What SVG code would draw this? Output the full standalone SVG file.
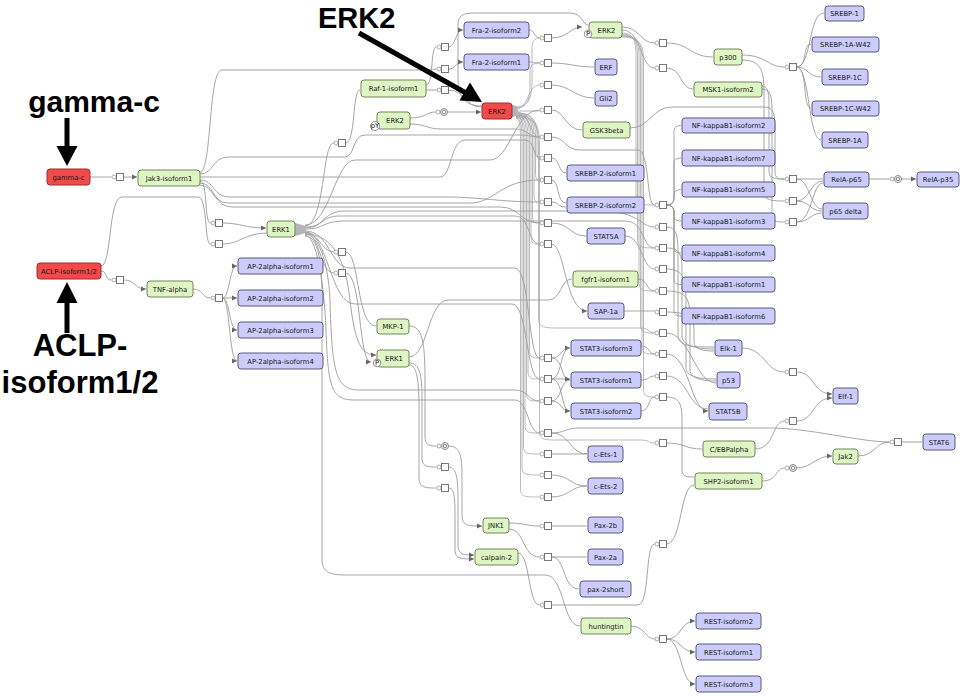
<svg xmlns="http://www.w3.org/2000/svg" width="964" height="696" viewBox="0 0 964 696">
<style>
#connectors path{fill:none;stroke:#9b9b9b;stroke-width:.9}
#connectors .t{stroke-width:.75;stroke:#a4a4a4}
#connectors .a{marker-end:url(#ar)}
.nb{fill:#ccccfc;stroke:#5a5a78;stroke-width:1}
.ng{fill:#def6c4;stroke:#74845c;stroke-width:1}
.nr{fill:#f04a4a;stroke:#9a2e2e;stroke-width:1}
.n text{font-family:"DejaVu Sans",sans-serif;font-size:6.8px;fill:#151515;text-anchor:middle}
.pq{fill:#fff;stroke:#6a6a6a;stroke-width:.9}
.pp{fill:#fff;stroke:#8a8a8a;stroke-width:.7}
.pc{fill:#fff;stroke:#777;stroke-width:.9}
.ann{font-family:"Liberation Sans",Arial,sans-serif;font-weight:bold;fill:#000}
.wedge{fill:#b4b4b4}
.mod{fill:#fff;stroke:#777;stroke-width:.8}
.modt{font-family:"DejaVu Sans",sans-serif;font-size:4px;fill:#333;text-anchor:middle}
</style>
<defs>
<marker id="ar" markerWidth="6" markerHeight="6" refX="5" refY="3" orient="auto" markerUnits="userSpaceOnUse"><path d="M0,0.6 L5,3 L0,5.4 z" fill="#666"/></marker>
<g id="sq"><circle class="pp" cx="-6" cy="0" r="2"/><rect class="pq" x="-3.5" y="-3.5" width="7" height="7"/></g>
<g id="cc"><circle class="pp" cx="-6" cy="0" r="2"/><circle class="pc" cx="0" cy="0" r="3.5"/><circle class="pc" cx="0" cy="0" r="1.8"/></g>
</defs>
<rect width="964" height="696" fill="#fff"/>

<g id="connectors">
<path d="M90 177 H111.5"/>
<path class="a" d="M123.5 177 H137"/>
<path d="M101 271 C108 271 104 280 111.5 280"/>
<path class="a" d="M123.5 280 C136 280 134 289 146 289"/>
<path d="M193 289 C203 289 202 298 210.5 298"/>
<path class="a" d="M222.5 298 C230 298 229 266 237 266"/>
<path class="a" d="M222.5 298 H237"/>
<path class="a" d="M222.5 298 C230 298 229 330 237 330"/>
<path class="a" d="M222.5 298 C230 298 229 361 237 361"/>
<path d="M200 181 C208 181 204 223 210.5 223"/>
<path class="a" d="M222.5 223 C240 223 245 228 266 228"/>
<path d="M101 266 C112 266 108 197 122 197 H198 C208 197 204 244 210.5 244"/>
<path d="M222.5 244 C240 244 245 233 267 233"/>
<path d="M200 172 C212 172 208 70 222 70 H428 C434 70 432 69 436.5 69"/>
<path d="M200 174 C214 174 212 157 228 157 H345 C355 157 352 135 365 135 H520 C530 135 530 137 539.5 137"/>
<path d="M200 177 H440 C452 177 450 140 465 140 H525 C535 140 533 158 539.5 158"/>
<path d="M200 180 C215 180 212 197 230 197 H445 C480 197 500 202 539.5 202"/>
<path d="M200 183 C214 183 212 203 228 203 H470 C495 203 500 180 539.5 180"/>
<path d="M200 185 C214 185 214 207 232 207 H500 C520 207 520 223 539.5 223"/>
<path d="M305 225 C330 225 335 160 355 160 H490 C510 160 515 110 539.5 110"/>
<path d="M305 226 C325 226 322 143 333.5 143"/>
<path d="M345.5 143 C356 143 352 90 360 90"/>
<path d="M305 227 C325 227 320 216 340 216 H515 C530 216 528 244 539.5 244"/>
<path d="M305 228 C325 228 322 211 345 211 H600 C640 211 640 227 654.5 227"/>
<path d="M305 229 C325 229 322 221 345 221 H625 C645 221 642 248 654.5 248"/>
<path d="M305 231 C330 231 330 268 350 268 H515 C530 268 528 358 539.5 358"/>
<path d="M305 232 C328 232 330 304 355 304 H512 C528 304 526 379 539.5 379"/>
<path d="M305 234 C318 234 328 260 330 300 C332 375 336 390 360 390 H515 C528 390 528 401 539.5 401"/>
<path d="M305 235 C316 235 324 280 326 330 C328 390 332 400 355 400 H515 C528 400 528 433 539.5 433"/>
<path d="M305 232 C318 232 322 252 333.5 252"/>
<path d="M305 233 C320 233 320 273 333.5 273"/>
<path d="M305 236 C318 236 322 260 322 300 V560 C322 572 330 575 345 575 H545 C565 575 562 626 580 626"/>
<path class="a" d="M305 234 C330 234 345 255 350 300 C355 345 362 355 376 355"/>
<path d="M345.5 252 C360 252 356 326 376 326"/>
<path class="a" d="M345.5 273 C362 273 358 362 371 362"/>
<path d="M409 326 C422 326 425 340 425 380 V436 C425 446 430 446 436.5 446"/>
<path d="M409 363 C420 363 422 375 422 400 V458 C422 467 428 467 436.5 467"/>
<path d="M409 365 C417 365 419 380 419 410 V478 C419 488 426 488 436.5 488"/>
<path d="M409 357 C428 357 428 300 448 300 H548 C562 300 560 279 572 279"/>
<path class="a" d="M448.5 446 C462 446 462 460 462 480 V515 C462 526 468 526 482 526"/>
<path class="a" d="M448.5 467 C457 467 458 480 458 500 V545 C458 555 464 555 474 555"/>
<path class="a" d="M448.5 488 C455 488 455 500 455 520 V550 C455 559 462 559 474 559"/>
<path d="M509 523 C525 523 525 526 539.5 526"/>
<path d="M551.5 526 H587"/>
<path d="M509 529 C525 529 522 557 539.5 557"/>
<path d="M551.5 557 H587"/>
<path d="M551.5 557 C566 557 562 589 579 589"/>
<path d="M518 553 C530 553 528 605 539.5 605"/>
<path d="M551.5 605 H638 C650 605 645 544 654.5 544"/>
<path d="M666.5 544 C682 544 680 485 694 485"/>
<path d="M631 626 C645 626 645 639 654.5 639"/>
<path class="a" d="M666.5 639 C682 639 680 621 695 621"/>
<path class="a" d="M666.5 639 C682 639 680 652 695 652"/>
<path class="a" d="M666.5 639 C682 639 680 684 695 684"/>
<path d="M482 106 C466 106 458 98 458 80 V25 C458 16 462 13 475 13 H570 C582 13 582 24 588 25"/>
<path d="M529 30 C535 30 534 38 539.5 38"/>
<path d="M529 62 C535 62 534 63 539.5 63"/>
<path d="M426 85 C434 85 430 47 436.5 47"/>
<path d="M426 90 H436.5"/>
<path class="a" d="M448.5 47 C456 47 455 30 463 30"/>
<path class="a" d="M448.5 69 C456 69 455 62 463 62"/>
<path d="M448.5 90 C465 90 465 107 481 107"/>
<path d="M410 118 C426 118 426 112 435.5 112"/>
<path class="a" d="M447.5 112 H481"/>
<path d="M410 124 C426 124 426 129 442 129 H515 C528 129 528 137 539.5 137"/>
<path class="t" d="M516 107 C530 107 532 95 532 80 V50 C532 40 535 38 539.5 38"/>
<path class="t" d="M516 108 C528 108 530 98 530 85 V72 C530 64 534 63 539.5 63"/>
<path class="t" d="M516 109 C528 109 528 85 539.5 85"/>
<path class="t" d="M516 111 H539.5"/>
<path class="t" d="M516 112 C530 112 530 137 539.5 137"/>
<path class="t" d="M516 113 C537 113 537 125 537 140 V150 C537 158 538 158 539.5 158"/>
<path class="t" d="M516 113 C535.5 113 535.5 125 535.5 140 V172 C535.5 180 537 180 539.5 180"/>
<path class="t" d="M516 114 C534 114 534 126 534 141 V194 C534 202 536 202 539.5 202"/>
<path class="t" d="M516 114 C532.5 114 532.5 126 532.5 141 V215 C532.5 223 535 223 539.5 223"/>
<path class="t" d="M516 115 C531 115 531 127 531 142 V236 C531 244 534 244 539.5 244"/>
<path class="t" d="M516 115 C529.5 115 529.5 127 529.5 142 V350 C529.5 358 533 358 539.5 358"/>
<path class="t" d="M516 116 C528 116 528 128 528 143 V371 C528 379 531 379 539.5 379"/>
<path class="t" d="M516 116 C526.5 116 526.5 128 526.5 143 V393 C526.5 401 530 401 539.5 401"/>
<path class="t" d="M516 117 C525 117 525 129 525 144 V425 C525 433 529 433 539.5 433"/>
<path class="t" d="M516 117 C523.5 117 523.5 129 523.5 144 V446 C523.5 454 527 454 539.5 454"/>
<path class="t" d="M516 118 C522 118 522 130 522 145 V467 C522 475 526 475 539.5 475"/>
<path class="t" d="M516 118 C520.5 118 520.5 130 520.5 145 V489 C520.5 497 525 497 539.5 497"/>
<path class="t" d="M516 116 C539.5 116 539.5 130 539.5 150 V432 C539.5 440 545 440 560 440 H640 C650 440 648 443 654.5 443"/>
<path class="t" d="M516 117 C538.5 117 538.5 130 538.5 150 V318 C538.5 328 545 328 560 328 H640 C650 328 648 333 654.5 333"/>
<path d="M551.5 38 C568 38 570 27 582 27" class="a"/>
<path d="M551.5 63 C570 63 575 67 594 67"/>
<path d="M551.5 85 C570 85 575 98 594 98"/>
<path d="M551.5 110 C565 110 565 130 582 130"/>
<path d="M551.5 137 C565 137 565 150 580 150 H638 C650 150 646 205 654.5 205"/>
<path d="M551.5 158 C560 158 558 173 566 173"/>
<path d="M551.5 180 C560 180 556 203 566 203"/>
<path d="M551.5 202 C560 202 556 207 566 207"/>
<path d="M551.5 223 C570 223 570 236 586 236"/>
<path class="a" d="M551.5 244 C565 244 565 311 587 311"/>
<path class="a" d="M551.5 358 C562 358 560 348 570 348"/>
<path d="M551.5 358 C564 358 560 380 570 380"/>
<path d="M551.5 379 C562 379 560 348 570 348"/>
<path class="a" d="M551.5 379 H570"/>
<path d="M551.5 379 C564 379 560 411 570 411"/>
<path d="M551.5 401 C562 401 560 380 570 380"/>
<path class="a" d="M551.5 401 C562 401 560 411 570 411"/>
<path d="M551.5 433 C570 433 570 454 587 454"/>
<path d="M551.5 454 H587"/>
<path d="M551.5 475 C570 475 570 486 587 486"/>
<path d="M551.5 497 C570 497 570 486 587 486"/>
<path d="M551.5 433 C565 433 565 428 580 428 H770 C810 428 860 442 889.5 442"/>
<path d="M622 27 C640 27 640 43 654.5 43"/>
<path d="M666.5 43 C690 43 690 57 713 57"/>
<path d="M622 30 C642 30 640 68 654.5 68"/>
<path d="M666.5 68 C682 68 680 89 693 89"/>
<path class="t" d="M622 33 C636 33 636 45 636 60 V197 C636 205 645 205 654.5 205"/>
<path class="t" d="M622 34 C637.5 34 637.5 46 637.5 61 V240 C637.5 248 645 248 654.5 248"/>
<path class="t" d="M622 35 C639 35 639 47 639 62 V283 C639 291 645 291 654.5 291"/>
<path class="t" d="M622 36 C640.5 36 640.5 48 640.5 63 V325 C640.5 333 647 333 654.5 333"/>
<path class="t" d="M622 36 C642 36 642 48 642 63 V346 C642 354 647 354 654.5 354"/>
<path class="t" d="M622 37 C643.5 37 643.5 49 643.5 64 V389 C643.5 397 648 397 654.5 397"/>
<path d="M625 236 C642 236 642 269 654.5 269"/>
<path d="M638 279 C648 279 646 291 654.5 291"/>
<path d="M624 311 H654.5"/>
<path d="M641 346 C650 346 648 354 654.5 354"/>
<path d="M641 380 C650 380 648 376 654.5 376"/>
<path d="M641 411 C650 411 648 397 654.5 397"/>
<path d="M630 128 C650 128 652 107 672 107 H765 C774 107 775 115 775 130 V171 C775 179 779 179 784.5 179"/>
<path d="M742 55 C766 55 768 67 784.5 67"/>
<path d="M742 60 C760 60 764 70 764 90 V193 C764 201 775 201 784.5 201"/>
<path d="M762 86 C769 86 769 95 769 110 V171 C769 179 775 179 784.5 179"/>
<path d="M762 89 C772 89 772 100 772 115 V214 C772 222 778 222 784.5 222"/>
<path d="M796.5 67 C812 67 808 13 824 13"/>
<path d="M796.5 67 C808 67 802 44 811 44"/>
<path d="M796.5 67 C808 67 808 77 821 77"/>
<path d="M796.5 67 C808 67 802 108 811 108"/>
<path d="M796.5 67 C810 67 808 140 821 140"/>
<path d="M796.5 179 H823"/>
<path d="M796.5 179 C810 179 810 209 822 209"/>
<path d="M796.5 201 C810 201 810 181 823 181"/>
<path d="M796.5 201 C810 201 810 211 822 211"/>
<path d="M796.5 222 C810 222 810 213 822 213"/>
<path d="M796.5 222 C812 222 812 183 823 183"/>
<path d="M869 179 H889.5"/>
<path class="a" d="M901.5 179 H916"/>
<path d="M666.5 205 Q674 205 674 198 V131 Q674 125.5 681 125.5"/>
<path d="M666.5 205 Q674 205 674 198 V163 Q674 158 681 158"/>
<path d="M666.5 205 Q674 205 674 198 V195 Q674 189.5 681 189.5"/>
<path d="M666.5 205 Q674 205 674 212 V216 Q674 221 681 221"/>
<path d="M666.5 205 Q674 205 674 212 V248 Q674 253 681 253"/>
<path d="M666.5 205 Q674 205 674 212 V280 Q674 284.5 681 284.5"/>
<path d="M666.5 205 Q674 205 674 212 V311 Q674 316 681 316"/>
<path d="M666.5 227 C676 227 678 235 678 250 V335 C678 346 690 347 714 347"/>
<path d="M666.5 248 C680 248 682 255 682 270 V336 C682 345 695 349 714 349"/>
<path d="M666.5 269 C684 269 686 280 686 300 V368 C686 377 700 379 716 379"/>
<path d="M666.5 291 C688 291 690 300 690 320 V370 C690 379 705 381 716 381"/>
<path d="M666.5 312 C692 312 694 320 694 330 V342 C694 350 705 351 714 351"/>
<path d="M666.5 333 C690 333 695 383 716 383"/>
<path class="a" d="M666.5 354 C690 354 690 411 708 411"/>
<path d="M666.5 376 C688 376 688 409 708 409"/>
<path d="M666.5 397 C680 397 682 405 682 420 V470 C682 477 688 477 694 477"/>
<path d="M666.5 443 C685 443 685 449 702 449"/>
<path d="M742 348 C765 348 765 372 784.5 372"/>
<path class="a" d="M796.5 372 C815 372 812 394 832 394"/>
<path d="M755 449 C775 449 772 421 784.5 421"/>
<path class="a" d="M796.5 421 C815 421 812 398 832 398"/>
<path d="M762 481 C778 481 775 468 784.5 468"/>
<path class="a" d="M796.5 468 C812 468 815 456 832 456"/>
<path d="M858 456 C875 456 875 442 889.5 442"/>
<path d="M901.5 442 H922"/>
</g>

<g id="processes">
<polygon class="wedge" points="295,223 306,226 306,233 295,236"/>
<polygon class="wedge" points="511,104 518,107 518,115 511,118"/>
<use href="#sq" x="120" y="177"/><use href="#sq" x="120" y="280"/><use href="#sq" x="219" y="298"/>
<use href="#sq" x="219" y="223"/><use href="#sq" x="219" y="244"/><use href="#sq" x="342" y="143"/>
<use href="#sq" x="445" y="47"/><use href="#sq" x="445" y="69"/><use href="#sq" x="445" y="90"/>
<use href="#sq" x="342" y="252"/><use href="#sq" x="342" y="273"/><use href="#sq" x="445" y="467"/><use href="#sq" x="445" y="488"/>
<use href="#cc" x="444" y="112"/><use href="#cc" x="445" y="446"/><use href="#cc" x="793" y="468"/><use href="#cc" x="898" y="179"/>
<use href="#sq" x="548" y="38"/><use href="#sq" x="548" y="63"/><use href="#sq" x="548" y="85"/><use href="#sq" x="548" y="110"/>
<use href="#sq" x="548" y="137"/><use href="#sq" x="548" y="158"/><use href="#sq" x="548" y="180"/><use href="#sq" x="548" y="202"/>
<use href="#sq" x="548" y="223"/><use href="#sq" x="548" y="244"/><use href="#sq" x="548" y="358"/><use href="#sq" x="548" y="379"/>
<use href="#sq" x="548" y="401"/><use href="#sq" x="548" y="433"/><use href="#sq" x="548" y="454"/><use href="#sq" x="548" y="475"/>
<use href="#sq" x="548" y="497"/><use href="#sq" x="548" y="526"/><use href="#sq" x="548" y="557"/><use href="#sq" x="548" y="605"/>
<use href="#sq" x="663" y="43"/><use href="#sq" x="663" y="68"/><use href="#sq" x="663" y="205"/><use href="#sq" x="663" y="227"/>
<use href="#sq" x="663" y="248"/><use href="#sq" x="663" y="269"/><use href="#sq" x="663" y="291"/><use href="#sq" x="663" y="312"/>
<use href="#sq" x="663" y="333"/><use href="#sq" x="663" y="354"/><use href="#sq" x="663" y="376"/><use href="#sq" x="663" y="397"/>
<use href="#sq" x="663" y="443"/><use href="#sq" x="663" y="544"/><use href="#sq" x="663" y="639"/>
<use href="#sq" x="793" y="67"/><use href="#sq" x="793" y="179"/><use href="#sq" x="793" y="201"/><use href="#sq" x="793" y="222"/>
<use href="#sq" x="793" y="372"/><use href="#sq" x="793" y="421"/><use href="#sq" x="898" y="442"/>
</g>

<g id="n-gamma-c" class="n"><rect class="nr" x="47" y="169" width="43" height="16" rx="3"/><text x="68.5" y="179.5">gamma-c</text></g>
<g id="n-aclp" class="n"><rect class="nr" x="37" y="263" width="64" height="16" rx="3"/><text x="69" y="273.5">ACLP-isoform1/2</text></g>
<g id="n-erk2-red" class="n"><rect class="nr" x="482" y="103" width="30" height="16" rx="3"/><text x="497" y="113.5">ERK2</text></g>
<g id="n-jak3" class="n"><rect class="ng" x="138" y="170" width="62" height="16" rx="3"/><text x="169" y="180.5">Jak3-isoform1</text></g>
<g id="n-erk1-a" class="n"><rect class="ng" x="267" y="221" width="28" height="16" rx="3"/><text x="281" y="231.5">ERK1</text></g>
<g id="n-tnf" class="n"><rect class="ng" x="147" y="281" width="46" height="16" rx="3"/><text x="170" y="291.5">TNF-alpha</text></g>
<g id="n-raf1" class="n"><rect class="ng" x="361" y="80" width="65" height="17" rx="3"/><text x="393.5" y="91">Raf-1-isoform1</text></g>
<g id="n-erk2-b" class="n"><rect class="ng" x="377" y="112" width="33" height="17" rx="3"/><text x="395" y="123">ERK2</text><circle class="mod" cx="375" cy="126" r="4.5"/><text class="modt" x="375" y="127.5">pY</text></g>
<g id="n-erk2-c" class="n"><rect class="ng" x="589" y="22" width="33" height="16" rx="3"/><text x="606.5" y="32.5">ERK2</text><circle class="mod" cx="588" cy="34" r="3.8"/><text class="modt" x="588" y="35.5">P</text></g>
<g id="n-gsk3beta" class="n"><rect class="ng" x="583" y="122" width="47" height="16" rx="3"/><text x="606.5" y="132.5">GSK3beta</text></g>
<g id="n-fgfr1" class="n"><rect class="ng" x="573" y="271" width="65" height="16" rx="3"/><text x="605.5" y="281.5">fgfr1-isoform1</text></g>
<g id="n-mkp1" class="n"><rect class="ng" x="377" y="319" width="32" height="15" rx="3"/><text x="393" y="329">MKP-1</text></g>
<g id="n-erk1-b" class="n"><rect class="ng" x="377" y="350" width="32" height="17" rx="3"/><text x="394" y="361">ERK1</text><circle class="mod" cx="377" cy="363" r="3.8"/><text class="modt" x="377" y="364.5">P</text></g>
<g id="n-p300" class="n"><rect class="ng" x="714" y="49" width="28" height="16" rx="3"/><text x="728" y="59.5">p300</text></g>
<g id="n-msk1" class="n"><rect class="ng" x="694" y="82" width="68" height="15" rx="3"/><text x="728" y="92">MSK1-isoform2</text></g>
<g id="n-cebpa" class="n"><rect class="ng" x="703" y="441" width="52" height="16" rx="3"/><text x="729" y="451.5">C/EBPalpha</text></g>
<g id="n-jak2" class="n"><rect class="ng" x="833" y="449" width="25" height="15" rx="3"/><text x="845.5" y="459">Jak2</text></g>
<g id="n-shp2" class="n"><rect class="ng" x="695" y="473" width="67" height="16" rx="3"/><text x="728.5" y="483.5">SHP2-isoform1</text></g>
<g id="n-jnk1" class="n"><rect class="ng" x="483" y="518" width="26" height="15" rx="3"/><text x="496" y="528">JNK1</text></g>
<g id="n-calpain2" class="n"><rect class="ng" x="475" y="549" width="43" height="16" rx="3"/><text x="496.5" y="559.5">calpain-2</text></g>
<g id="n-huntingtin" class="n"><rect class="ng" x="581" y="618" width="50" height="16" rx="3"/><text x="606" y="628.5">huntingtin</text></g>

<g id="n-fra2-2" class="n"><rect class="nb" x="464" y="22" width="65" height="16" rx="3"/><text x="496.5" y="32.5">Fra-2-isoform2</text></g>
<g id="n-fra2-1" class="n"><rect class="nb" x="464" y="54" width="65" height="16" rx="3"/><text x="496.5" y="64.5">Fra-2-isoform1</text></g>
<g id="n-erf" class="n"><rect class="nb" x="595" y="59" width="22" height="16" rx="3"/><text x="606" y="69.5">ERF</text></g>
<g id="n-gli2" class="n"><rect class="nb" x="595" y="91" width="22" height="15" rx="3"/><text x="606" y="101">Gli2</text></g>
<g id="n-srebp2-1" class="n"><rect class="nb" x="567" y="165" width="77" height="16" rx="3"/><text x="605.5" y="175.5">SREBP-2-isoform1</text></g>
<g id="n-srebp2-2" class="n"><rect class="nb" x="567" y="197" width="77" height="16" rx="3"/><text x="605.5" y="207.5">SREBP-2-isoform2</text></g>
<g id="n-stat5a" class="n"><rect class="nb" x="587" y="228" width="38" height="16" rx="3"/><text x="606" y="238.5">STAT5A</text></g>
<g id="n-sap1a" class="n"><rect class="nb" x="588" y="303" width="36" height="16" rx="3"/><text x="606" y="313.5">SAP-1a</text></g>
<g id="n-stat3-3" class="n"><rect class="nb" x="571" y="340" width="70" height="16" rx="3"/><text x="606" y="350.5">STAT3-isoform3</text></g>
<g id="n-stat3-1" class="n"><rect class="nb" x="571" y="372" width="70" height="16" rx="3"/><text x="606" y="382.5">STAT3-isoform1</text></g>
<g id="n-stat3-2" class="n"><rect class="nb" x="571" y="403" width="70" height="16" rx="3"/><text x="606" y="413.5">STAT3-isoform2</text></g>
<g id="n-cets1" class="n"><rect class="nb" x="588" y="446" width="35" height="16" rx="3"/><text x="605.5" y="456.5">c-Ets-1</text></g>
<g id="n-cets2" class="n"><rect class="nb" x="588" y="478" width="35" height="16" rx="3"/><text x="605.5" y="488.5">c-Ets-2</text></g>
<g id="n-pax2b" class="n"><rect class="nb" x="588" y="517" width="35" height="16" rx="3"/><text x="605.5" y="527.5">Pax-2b</text></g>
<g id="n-pax2a" class="n"><rect class="nb" x="588" y="549" width="35" height="16" rx="3"/><text x="605.5" y="559.5">Pax-2a</text></g>
<g id="n-pax2short" class="n"><rect class="nb" x="580" y="581" width="51" height="16" rx="3"/><text x="605.5" y="591.5">pax-2short</text></g>
<g id="n-ap2a-1" class="n"><rect class="nb" x="238" y="258" width="85" height="16" rx="3"/><text x="280.5" y="268.5">AP-2alpha-isoform1</text></g>
<g id="n-ap2a-2" class="n"><rect class="nb" x="238" y="290" width="85" height="16" rx="3"/><text x="280.5" y="300.5">AP-2alpha-isoform2</text></g>
<g id="n-ap2a-3" class="n"><rect class="nb" x="238" y="322" width="85" height="16" rx="3"/><text x="280.5" y="332.5">AP-2alpha-isoform3</text></g>
<g id="n-ap2a-4" class="n"><rect class="nb" x="238" y="353" width="85" height="16" rx="3"/><text x="280.5" y="363.5">AP-2alpha-isoform4</text></g>
<g id="n-srebp1" class="n"><rect class="nb" x="825" y="6" width="39" height="15" rx="3"/><text x="844.5" y="16">SREBP-1</text></g>
<g id="n-srebp1a-w42" class="n"><rect class="nb" x="812" y="37" width="67" height="15" rx="3"/><text x="845.5" y="47">SREBP-1A-W42</text></g>
<g id="n-srebp1c" class="n"><rect class="nb" x="822" y="69" width="46" height="16" rx="3"/><text x="845" y="79.5">SREBP-1C</text></g>
<g id="n-srebp1c-w42" class="n"><rect class="nb" x="812" y="101" width="67" height="15" rx="3"/><text x="845.5" y="111">SREBP-1C-W42</text></g>
<g id="n-srebp1a" class="n"><rect class="nb" x="822" y="132" width="46" height="16" rx="3"/><text x="845" y="142.5">SREBP-1A</text></g>
<g id="n-nfkb1-2" class="n"><rect class="nb" x="682" y="118" width="93" height="15" rx="3"/><text x="728.5" y="128">NF-kappaB1-isoform2</text></g>
<g id="n-nfkb1-7" class="n"><rect class="nb" x="682" y="150" width="93" height="16" rx="3"/><text x="728.5" y="160.5">NF-kappaB1-isoform7</text></g>
<g id="n-nfkb1-5" class="n"><rect class="nb" x="682" y="182" width="93" height="15" rx="3"/><text x="728.5" y="192">NF-kappaB1-isoform5</text></g>
<g id="n-nfkb1-3" class="n"><rect class="nb" x="682" y="213" width="93" height="16" rx="3"/><text x="728.5" y="223.5">NF-kappaB1-isoform3</text></g>
<g id="n-nfkb1-4" class="n"><rect class="nb" x="682" y="245" width="93" height="16" rx="3"/><text x="728.5" y="255.5">NF-kappaB1-isoform4</text></g>
<g id="n-nfkb1-1" class="n"><rect class="nb" x="682" y="277" width="93" height="15" rx="3"/><text x="728.5" y="287">NF-kappaB1-isoform1</text></g>
<g id="n-nfkb1-6" class="n"><rect class="nb" x="682" y="308" width="93" height="16" rx="3"/><text x="728.5" y="318.5">NF-kappaB1-isoform6</text></g>
<g id="n-rela-p65" class="n"><rect class="nb" x="824" y="172" width="45" height="15" rx="3"/><text x="846.5" y="182">RelA-p65</text></g>
<g id="n-p65delta" class="n"><rect class="nb" x="823" y="203" width="45" height="16" rx="3"/><text x="845.5" y="213.5">p65 delta</text></g>
<g id="n-rela-p35" class="n"><rect class="nb" x="917" y="172" width="42" height="15" rx="3"/><text x="938" y="182">RelA-p35</text></g>
<g id="n-elk1" class="n"><rect class="nb" x="715" y="340" width="27" height="16" rx="3"/><text x="728.5" y="350.5">Elk-1</text></g>
<g id="n-p53" class="n"><rect class="nb" x="717" y="372" width="23" height="16" rx="3"/><text x="728.5" y="382.5">p53</text></g>
<g id="n-stat5b" class="n"><rect class="nb" x="709" y="403" width="38" height="17" rx="3"/><text x="728" y="414">STAT5B</text></g>
<g id="n-elf1" class="n"><rect class="nb" x="833" y="388" width="25" height="16" rx="3"/><text x="845.5" y="398.5">Elf-1</text></g>
<g id="n-stat6" class="n"><rect class="nb" x="923" y="434" width="32" height="16" rx="3"/><text x="939" y="444.5">STAT6</text></g>
<g id="n-rest-2" class="n"><rect class="nb" x="696" y="613" width="65" height="16" rx="3"/><text x="728.5" y="623.5">REST-isoform2</text></g>
<g id="n-rest-1" class="n"><rect class="nb" x="696" y="644" width="65" height="16" rx="3"/><text x="728.5" y="654.5">REST-isoform1</text></g>
<g id="n-rest-3" class="n"><rect class="nb" x="696" y="676" width="65" height="16" rx="3"/><text x="728.5" y="686.5">REST-isoform3</text></g>

<g id="annotations">
<text class="ann" x="94" y="112" font-size="30" text-anchor="middle">gamma-c</text>
<line x1="67" y1="118" x2="67" y2="150" stroke="#000" stroke-width="5"/>
<polygon points="56.5,146 77.5,146 67,166" fill="#000"/>
<text class="ann" x="80" y="356" font-size="31" text-anchor="middle">ACLP-</text>
<text class="ann" x="80" y="393" font-size="31" text-anchor="middle">isoform1/2</text>
<line x1="67" y1="333" x2="67" y2="300" stroke="#000" stroke-width="5"/>
<polygon points="56.5,303 77.5,303 67,282" fill="#000"/>
<text class="ann" x="318" y="28" font-size="29">ERK2</text>
<line x1="359" y1="33" x2="466" y2="93" stroke="#000" stroke-width="5"/>
<polygon points="459.5,100.5 470,82.5 482,102" fill="#000"/>
</g>
</svg>
